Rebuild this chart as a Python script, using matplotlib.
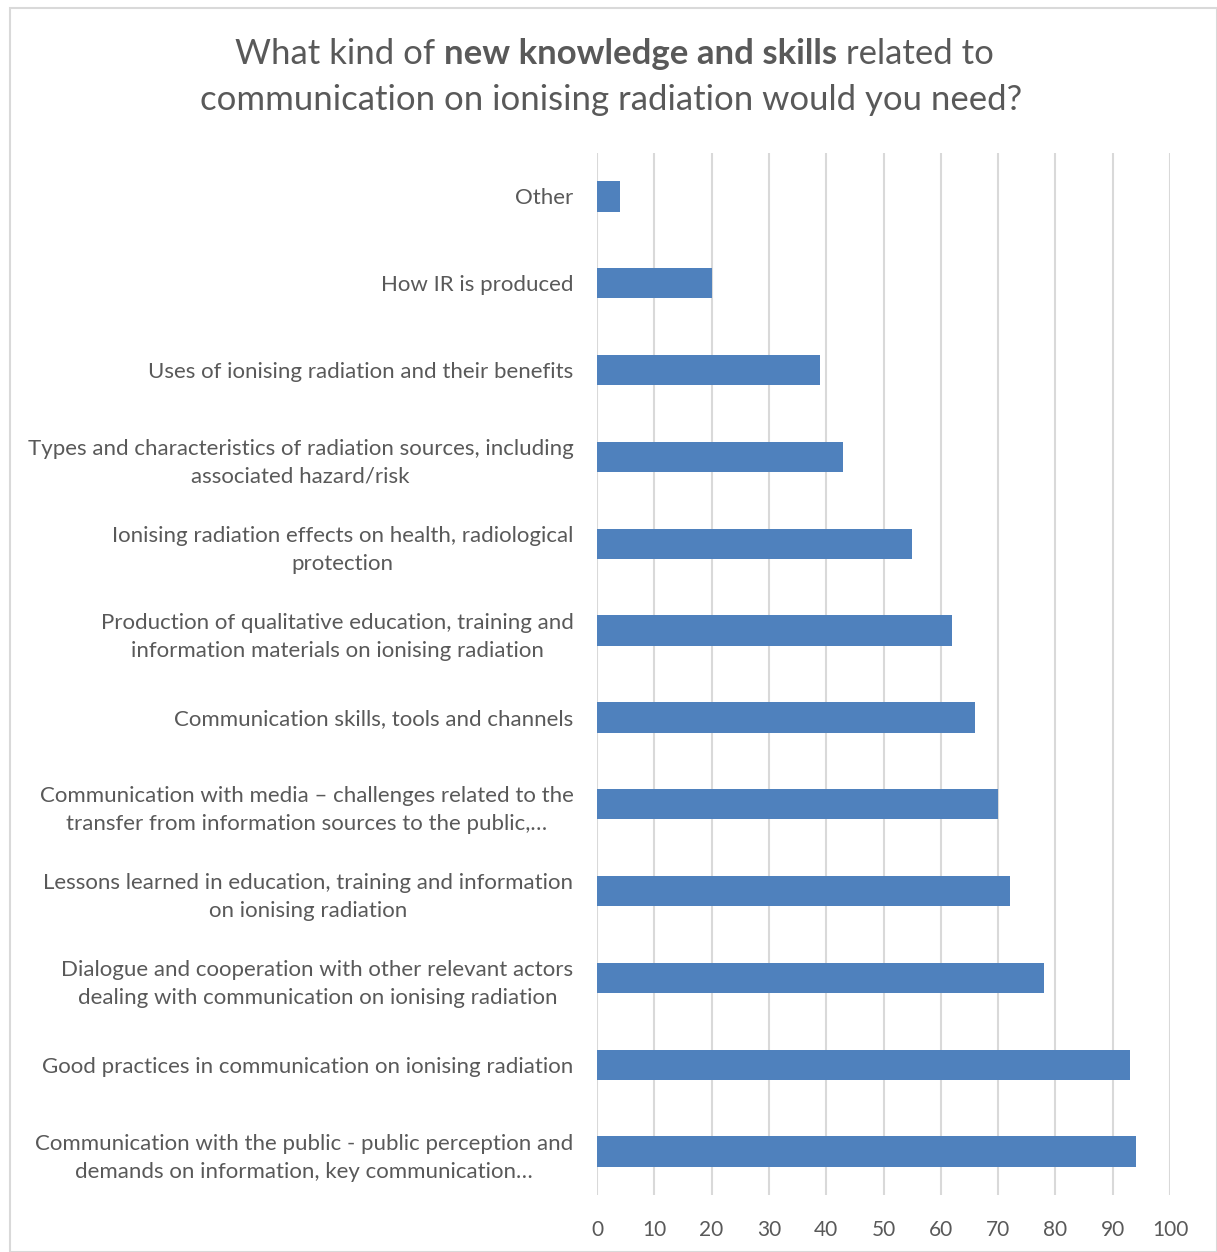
import numpy as np
import matplotlib.pyplot as plt
from matplotlib.patches import Rectangle

plt.rcParams['font.family'] = ['Lato', 'DejaVu Sans']

# categories top to bottom as shown in the chart
labels = [
    "Other",
    "How IR is produced",
    "Uses of ionising radiation and their benefits",
    "Types and characteristics of radiation sources, including\nassociated hazard/risk",
    "Ionising radiation effects on health, radiological\nprotection",
    "Production of qualitative education, training and\ninformation materials on ionising radiation",
    "Communication skills, tools and channels",
    "Communication with media \u2013 challenges related to the\ntransfer from information sources to the public,\u2026",
    "Lessons learned in education, training and information\non ionising radiation",
    "Dialogue and cooperation with other relevant actors\ndealing with communication on ionising radiation",
    "Good practices in communication on ionising radiation",
    "Communication with the public - public perception and\ndemands on information, key communication\u2026",
]
values = [4, 20, 39, 43, 55, 62, 66, 70, 72, 78, 93, 94]
xticks = [0, 10, 20, 30, 40, 50, 60, 70, 80, 90, 100]

TXT = '#595959'
BAR = '#4F81BD'
GRID = '#D9D9D9'

fig = plt.figure(figsize=(12.17, 12.52), dpi=100)
ax = fig.add_axes([597/1217, 1 - 1195/1252, (1170 - 597)/1217, (1195 - 153)/1252])

y = np.arange(len(labels))
ax.barh(y, values, height=0.35, color=BAR, zorder=3)
ax.set_ylim(len(labels) - 0.5, -0.5)
ax.set_xlim(0, 100)
ax.set_xticks(xticks)
ax.set_xticklabels([str(t) for t in xticks], fontsize=15, color=TXT)
ax.set_yticks(y)
ax.set_yticklabels(labels, fontsize=16, color=TXT, multialignment='center', linespacing=1.5)
ax.tick_params(axis='both', length=0)
ax.tick_params(axis='y', pad=17)
ax.tick_params(axis='x', pad=18)
for s in ax.spines.values():
    s.set_visible(False)
ax.grid(axis='x', color=GRID, linewidth=1.5, zorder=0)
ax.set_axisbelow(True)

# outer frame
fig.patches.append(Rectangle((10/1217, 0), 1 - 10/1217, 1 - 8/1252,
                             transform=fig.transFigure, fill=False,
                             edgecolor='#D9D9D9', linewidth=1.5))

# title with bold part
fig.canvas.draw()
r = fig.canvas.get_renderer()
tsize = 25
parts = [("What kind of ", 'normal'), ("new knowledge and skills", 'bold'), (" related to", 'normal')]
objs = []
for s, w in parts:
    objs.append(fig.text(0, 1 - 54/1252, s, fontsize=tsize, fontweight=w, color=TXT, va='center', ha='left'))
widths = [o.get_window_extent(r).width for o in objs]
x0 = (1217 - sum(widths)) / 2 + 6
for o, w in zip(objs, widths):
    o.set_x(x0 / 1217)
    x0 += w
fig.text((1217 + 6) / 2 / 1217, 1 - 100/1252, "communication on ionising radiation would you need?",
         fontsize=tsize, color=TXT, va='center', ha='center')

fig.savefig('out.png', dpi=100)
